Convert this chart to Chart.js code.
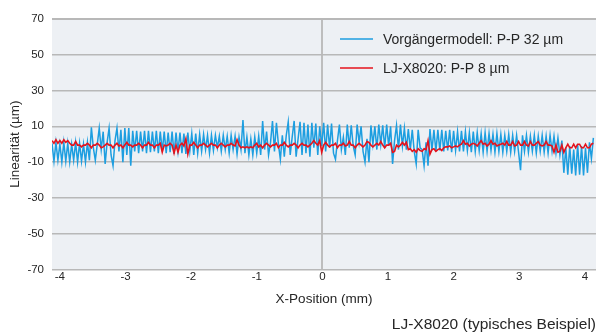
<!DOCTYPE html>
<html>
<head>
<meta charset="utf-8">
<script src="https://cdn.jsdelivr.net/npm/chart.js@4.4.1/dist/chart.umd.min.js"></script>
<style>
    html, body { margin: 0; padding: 0; background: #ffffff; }
    #wrap { width: 601px; height: 334px; position: relative; }
</style>
</head>
<body>
<div id="wrap"><canvas id="myChart"></canvas></div>
<script>

// DATA

const positions = [
    -4.12, -4.09, -4.06, -4.03, -4.00, -3.97, -3.94, -3.91, -3.88, -3.85,
    -3.82, -3.79, -3.76, -3.73, -3.70, -3.67, -3.64, -3.61, -3.58, -3.55,
    -3.52, -3.49, -3.46, -3.43, -3.40, -3.37, -3.34, -3.31, -3.28, -3.25,
    -3.22, -3.19, -3.16, -3.13, -3.10, -3.07, -3.04, -3.01, -2.98, -2.95,
    -2.92, -2.89, -2.86, -2.83, -2.80, -2.77, -2.74, -2.71, -2.68, -2.65,
    -2.62, -2.59, -2.56, -2.53, -2.50, -2.47, -2.44, -2.41, -2.38, -2.35,
    -2.32, -2.29, -2.26, -2.23, -2.20, -2.17, -2.14, -2.11, -2.08, -2.05,
    -2.02, -1.99, -1.96, -1.93, -1.90, -1.87, -1.84, -1.81, -1.78, -1.75,
    -1.72, -1.69, -1.66, -1.63, -1.60, -1.57, -1.54, -1.51, -1.48, -1.45,
    -1.42, -1.39, -1.36, -1.33, -1.30, -1.27, -1.24, -1.21, -1.18, -1.15,
    -1.12, -1.09, -1.06, -1.03, -1.00, -0.97, -0.94, -0.91, -0.88, -0.85,
    -0.82, -0.79, -0.76, -0.73, -0.70, -0.67, -0.64, -0.61, -0.58, -0.55,
    -0.52, -0.49, -0.46, -0.43, -0.40, -0.37, -0.34, -0.31, -0.28, -0.25,
    -0.22, -0.19, -0.16, -0.13, -0.10, -0.07, -0.04, -0.01, 0.02, 0.05,
    0.08, 0.11, 0.14, 0.17, 0.20, 0.23, 0.26, 0.29, 0.32, 0.35,
    0.38, 0.41, 0.44, 0.47, 0.50, 0.53, 0.56, 0.59, 0.62, 0.65,
    0.68, 0.71, 0.74, 0.77, 0.80, 0.83, 0.86, 0.89, 0.92, 0.95,
    0.98, 1.01, 1.04, 1.07, 1.10, 1.13, 1.16, 1.19, 1.22, 1.25,
    1.28, 1.31, 1.34, 1.37, 1.40, 1.43, 1.46, 1.49, 1.52, 1.55,
    1.58, 1.61, 1.64, 1.67, 1.70, 1.73, 1.76, 1.79, 1.82, 1.85,
    1.88, 1.91, 1.94, 1.97, 2.00, 2.03, 2.06, 2.09, 2.12, 2.15,
    2.18, 2.21, 2.24, 2.27, 2.30, 2.33, 2.36, 2.39, 2.42, 2.45,
    2.48, 2.51, 2.54, 2.57, 2.60, 2.63, 2.66, 2.69, 2.72, 2.75,
    2.78, 2.81, 2.84, 2.87, 2.90, 2.93, 2.96, 2.99, 3.02, 3.05,
    3.08, 3.11, 3.14, 3.17, 3.20, 3.23, 3.26, 3.29, 3.32, 3.35,
    3.38, 3.41, 3.44, 3.47, 3.50, 3.53, 3.56, 3.59, 3.62, 3.65,
    3.68, 3.71, 3.74, 3.77, 3.80, 3.83, 3.86, 3.89, 3.92, 3.95,
    3.98, 4.01, 4.04, 4.07, 4.10, 4.13
];

// Vorgängermodell (µm)
const previousModel = [
    0.5, -9.5, 1, -9, 0, -10, 1, -9.5, 0.5, -10,
    0, -9, 1, -10, 0.5, -9.5, 0, -10, 1, -9,
    9.5, -2, -9, 0, 9, -3, 7, -11, 1, 9,
    -6, -12, 2, 9, -4, 8, -10, 9, -6, 9,
    -12, 7.5, -4, 7.5, -5, 7, -4, 7.5, -5, 7.5,
    -4.5, 7, -4, 7.5, -5, 7, -4, 7, -5, 6.5,
    -4.5, 7, -5.5, 6.5, -4, 6.5, -5, 6, -5.5, 6.5,
    -4, 6, -6, 6, -5, 5.5, -4, 5.5, -3, 5,
    -5, 5, -3.5, 5, -2, 4.5, -4, 5, -3, 4.5,
    -5, 5, -3, 4.5, -5.5, 4, -3, 13.5, -5, 4,
    -6, 3, -6, 4, -5, 4.5, -6, 13, -3, 7,
    -6, 1, 13, -4, 12, 0, -8.5, 5, -7, 5,
    12.5, -6, 4, 13, -7, 3, 12.5, -6, 12, -5,
    11, -7, 12, -2, 11.5, -6, 10, -1, 12, -4,
    11, -2, 11.5, -5, -8.5, 2, 11, -3, 4, -6,
    11, -2, 10.5, -1, -6, 11, 1, 10, -4, -10,
    3, -10, 10.5, 0, 10, -3, 11, 0, 10.5, -2,
    11, -1, 10, -11, 2, 10.5, -3, 11, -1, 9,
    -3, 8.5, -3, 8, -4, -11, 8, -2, -3, -12,
    1, -12, 8.5, -3.5, 8, -4, 8, -3.5, 8, -4,
    7.5, -3.5, 8, -4.5, 7.5, -3.5, 7, -4, 7.5, -4,
    7, -3.5, 6.5, -4.5, 7, -4, 6.5, -3.5, 6, -4.5,
    6.5, -4, 6, -3.5, 5.5, -4.5, 6, -4, 5.5, -4.5,
    5, -4, 5.5, -4.5, 5, -4, 5, -4.5, -14.5, 5,
    -4, 5, -4.5, 4.5, -4, 5, -5, 4.5, -4, 5,
    -4.5, 4.5, -5, 5, -4, 4.5, -5, 3.5, -6, 2,
    -16, -2, -17, -1, -16.5, -3, -17.5, 0, -17, -1,
    -17.5, -2, -16, 1, -8, 3.5
];

// LJ-X8020 (µm)
const ljX8020 = [
    2, 0.5, 2.5, 0.5, 2, 0.5, 2.5, 1, 2, 0.5,
    -0.5, -0.5, 1.5, -0.5, -0.5, -1.5, -0.5, -0.5, 0.5, -0.5,
    -2, -0.5, -0.5, 0.5, -0.5, -2, -1.5, -0.5, 0.5, -0.5,
    -0.5, -2, -0.5, 0.5, -1, -0.5, -2, -0.5, 1, -0.5,
    -0.5, -1.5, -0.5, -0.5, 0.5, -0.5, -2, -0.5, -0.5, 1,
    -0.5, -0.5, -2, -0.5, -0.5, 0.5, -4.5, -0.5, -1, -0.5,
    0.5, -0.5, -5, -0.5, -4.5, -0.5, 0.5, -1, 3, -5.5,
    -0.5, -0.5, 1, -0.5, -2, -0.5, -0.5, 0.5, -0.5, -1.5,
    -0.5, 0.5, -0.5, -0.5, -2, -0.5, 0.5, -0.5, -1.5, -0.5,
    -0.5, 0.5, -0.5, -1, 2.5, -0.5, -2, -1.5, -2, -1.5,
    -2, -1.5, -2, -0.5, 0.5, -1.5, -0.5, -2, -0.5, 0.5,
    -0.5, -1.5, -0.5, -0.5, 0.5, -2, -0.5, -0.5, 1, -0.5,
    -1.5, -0.5, -0.5, 0.5, -0.5, -2, -0.5, 0.5, -0.5, -0.5,
    -1.5, -0.5, 0.5, 2, 0.5, -0.5, 2, -4.5, -0.5, 1,
    -0.5, -1.5, -0.5, -0.5, 0.5, -2, -0.5, -0.5, 0.5, -1,
    -0.5, 1.5, -0.5, -0.5, -2, -0.5, 0.5, -0.5, -1.5, -0.5,
    1.5, 1, -0.5, -1.5, -0.5, 0.5, -0.5, 1.5, -0.5, -2,
    -0.5, -0.5, 0.5, -4.5, -4, -0.5, -1.5, -0.5, 1, -0.5,
    1, -3, -2.5, -4, -3, -4.5, -2.5, -3.5, -4, -2.5,
    -3, 2, -5.5, -3, -2.5, -4, -3, -2.5, -3.5, -2,
    -1.5, -1.5, -1, -2, -1.5, -1, -1.5, -0.5, 0, 2,
    0, 0.5, -1, 0, 0.5, 0, -1, 0.5, 2, 0,
    0.5, -1, 0, 2, 0, 0.5, -1, -0.5, 0, 0.5,
    -0.5, 1.5, -0.5, -0.5, 1.5, -1, -0.5, 1.5, -0.5, -0.5,
    1.5, -0.5, -1, 1.5, -0.5, -0.5, 0.5, 1.5, -0.5, -1,
    -0.5, 1.5, -0.5, -0.5, -1, -4.5, -0.5, -4.5, -4, -0.5,
    -4.5, -2, 0, -2, -2, 0, -2, 0, 0, -2,
    -2, 0, -2, -2, 0, 0.5
];

const seriesLabels = ["Vorgängermodell: P-P 32 µm", "LJ-X8020: P-P 8 µm"];
const xTicks = [-4, -3, -2, -1, 0, 1, 2, 3, 4];
const yTicks = [-70, -50, -30, -10, 10, 30, 50, 70];


const FONT = "'Liberation Sans', Arial, Helvetica, sans-serif";
const TEXT = "#262626";
const GRID = "#b8b8b8";


const toPoints = (values) => values.map((value, i) => ({x: positions[i], y: value}));


// plot background
const plotBackground = {
    id: 'plotBackground',
    beforeDraw(chart) {
        const {ctx, chartArea} = chart;
        ctx.save();
        ctx.fillStyle = "#edf0f4";
        ctx.fillRect(chartArea.left, chartArea.top, chartArea.right - chartArea.left, chartArea.bottom - chartArea.top);
        ctx.restore();
    }
};


// legend drawn inside the plot, top right
const innerLegend = {
    id: 'innerLegend',
    afterDatasetsDraw(chart) {
        const {ctx, chartArea} = chart;
        ctx.save();
        chart.data.datasets.forEach((dataset, i) => {
            const y = chartArea.top + 20 + i * 29;
            const x = chartArea.left + 288;
            ctx.strokeStyle = dataset.borderColor;
            ctx.lineWidth = 1.5;
            ctx.beginPath();
            ctx.moveTo(x, y);
            ctx.lineTo(x + 33, y);
            ctx.stroke();
            ctx.fillStyle = TEXT;
            ctx.font = "14px " + FONT;
            ctx.textBaseline = "middle";
            ctx.fillText(dataset.label, x + 43, y + 1);
        });
        ctx.restore();
    }
};


const ctx = document.getElementById("myChart").getContext("2d");

new Chart(ctx, {
    type: "line",
    data: {
        datasets: [
            {
                label: seriesLabels[0],
                data: toPoints(previousModel),
                borderColor: "#1d9ee0",
                borderWidth: 1.5,
                pointRadius: 0,
                tension: 0,
                order: 2,
            },
            {
                label: seriesLabels[1],
                data: toPoints(ljX8020),
                borderColor: "#e5131d",
                borderWidth: 1.6,
                pointRadius: 0,
                tension: 0,
                order: 1,
            },
        ],
    },
    options: {
        responsive: true,
        maintainAspectRatio: false,
        animation: false,
        layout: {padding: {top: 19, right: 5, left: 0, bottom: 0}},
        plugins: {
            legend: {display: false},
            tooltip: {enabled: false},
            subtitle: {
                display: true,
                text: "LJ-X8020 (typisches Beispiel)",
                position: "bottom",
                align: "end",
                color: TEXT,
                font: {family: FONT, size: 15.5, weight: "normal"},
                padding: {top: 8, bottom: 0},
            },
        },
        scales: {
            x: {
                type: "linear",
                min: -4.12,
                max: 4.17,
                afterBuildTicks: (scale) => {
                    scale.ticks = xTicks.map(v => ({value: v}));
                },
                afterFit: (scale) => {
                    scale.height = 38;
                },
                ticks: {
                    color: TEXT,
                    font: {family: FONT, size: 11.5},
                    padding: 1,
                    maxRotation: 0,
                    autoSkip: false,
                },
                grid: {
                    drawTicks: false,
                    color: (c) => (c.tick && c.tick.value === 0 ? "#bdbdbd" : "rgba(0,0,0,0)"),
                    lineWidth: 2,
                },
                border: {display: false},
                title: {
                    display: true,
                    text: "X-Position (mm)",
                    color: TEXT,
                    font: {family: FONT, size: 13.5},
                    padding: {top: 0, bottom: 0},
                },
            },
            y: {
                type: "linear",
                min: -70,
                max: 70,
                afterBuildTicks: (scale) => {
                    scale.ticks = yTicks.map(v => ({value: v}));
                },
                afterFit: (scale) => {
                    scale.width = 52;
                },
                ticks: {
                    color: TEXT,
                    font: {family: FONT, size: 11.5},
                    padding: 8,
                },
                grid: {
                    drawTicks: false,
                    color: GRID,
                    lineWidth: (c) => (c.tick && c.tick.value === 70 ? 2 : 1.5),
                },
                border: {display: false},
                title: {
                    display: true,
                    text: "Linearität (µm)",
                    color: TEXT,
                    font: {family: FONT, size: 13.5},
                    padding: {top: 7, bottom: 0},
                },
            },
        },
    },
    plugins: [plotBackground, innerLegend],
});
</script>
</body>
</html>
